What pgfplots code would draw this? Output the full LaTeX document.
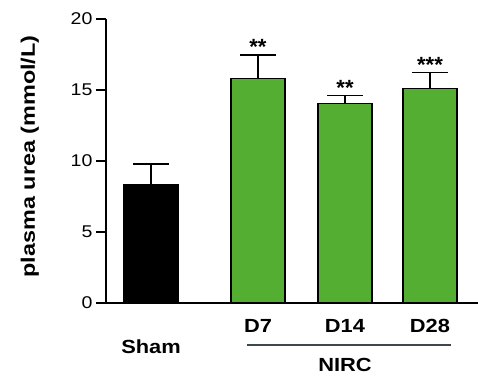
\documentclass[border=0pt]{standalone}
\usepackage{graphicx}
\usepackage{pgfplots}
\pgfplotsset{compat=1.18}
\usepackage{fontspec}
\setmainfont{Liberation Sans}
\definecolor{bargreen}{RGB}{84,174,50}
\definecolor{linegray}{RGB}{60,72,78}
\newcommand\sx[1]{\scalebox{1.15}[1]{#1}}
\newcommand\bfont{\fontsize{19}{20}\selectfont\bfseries}
\newcommand\xl[2]{\raisebox{#1}[0pt][0pt]{\sx{#2}}}
\begin{document}
\begin{tikzpicture}
\begin{axis}[
  at={(0,0)}, anchor=south west,
  scale only axis, width=372pt, height=284pt,
  xmin=106, xmax=478, ymin=0, ymax=20,
  axis x line=bottom, axis y line=left,
  axis line style={-, line width=1.5pt},
  ybar, bar shift=0pt, bar width=54,
  xtick={151,258,345,430},
  xticklabels={\xl{-40pt}{Sham}, \xl{-19pt}{D7}, \xl{-19pt}{D14}, \xl{-19pt}{D28}},
  xticklabel style={font=\bfont, inner sep=0pt, yshift=0pt},
  x tick style={draw=none},
  ytick={0,5,10,15,20},
  yticklabel={\sx{\pgfmathprintnumber{\tick}}},
  tick align=outside, major tick length=10pt,
  y tick style={line width=1.5pt, black},
  yticklabel style={font=\fontsize{17}{18}\selectfont},
  /pgf/number format/assume math mode=true,
  ylabel={\scalebox{1.2}[1]{plasma urea (mmol/L)}},
  ylabel style={at={(axis description cs:-0.205,0.516)}, anchor=center, font=\fontsize{19.5}{20}\selectfont\bfseries},
  clip=false,
  error bars/y dir=plus, error bars/y explicit,
  error bars/error bar style={line width=1.5pt, black},
  error bars/error mark options={rotate=90, mark size=18pt, line width=1.5pt, black},
]
\addplot[fill=black, draw=black, line width=1.5pt] coordinates {(151,8.31) +- (0,1.48)};
\addplot[fill=bargreen, draw=black, line width=1.5pt] coordinates {
  (258,15.82) +- (0,1.64)
  (345,14.04) +- (0,0.58)
  (430,15.12) +- (0,1.13)
};
\addplot[draw=none, mark=none, nodes near coords, point meta=explicit symbolic,
  every node near coord/.append style={font=\fontsize{22}{22}\selectfont\bfseries, anchor=south, inner sep=0pt, yshift=0pt}]
  table[meta=label] {
x y label
258 17.46 **
345 14.62 **
430 16.25 ***
};
\draw[linegray, line width=1.2pt] (axis cs:247,-2.96) -- (axis cs:451,-2.96);
\node[font=\bfont] at (axis cs:345,-4.37) {\sx{NIRC}};
\end{axis}
\pgfresetboundingbox
\path (-106pt,-73pt) rectangle (372pt,303pt);
\end{tikzpicture}
\end{document}
